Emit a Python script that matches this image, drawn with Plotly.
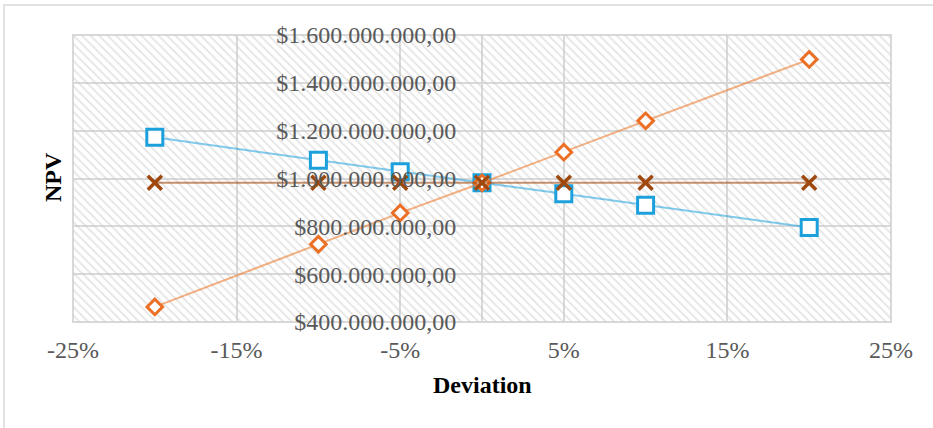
import plotly.graph_objects as go

# Percentage deviation of each input from its base value
deviation = [-0.20, -0.10, -0.05, 0.0, 0.05, 0.10, 0.20]

# NPV for each input under the deviations above
npv_var1 = [1172e6, 1076e6, 1028e6, 982e6, 936e6, 888e6, 795e6]
npv_var2 = [463e6, 725e6, 856e6, 982e6, 1110e6, 1241e6, 1498e6]
npv_var3 = [982e6, 982e6, 982e6, 982e6, 982e6, 982e6, 982e6]

# Axis ticks and their labels
x_ticks = [-0.25, -0.15, -0.05, 0.05, 0.15, 0.25]
x_tick_labels = ["-25%", "-15%", "-5%", "5%", "15%", "25%"]
y_ticks = [400e6, 600e6, 800e6, 1000e6, 1200e6, 1400e6, 1600e6]
y_tick_labels = ["$400.000.000,00", "$600.000.000,00", "$800.000.000,00",
                 "$1.000.000.000,00", "$1.200.000.000,00", "$1.400.000.000,00",
                 "$1.600.000.000,00"]

x_range = [x_ticks[0], x_ticks[-1]]
y_range = [y_ticks[0], y_ticks[-1]]

FONT = "Liberation Serif, Times New Roman, serif"
GRID = "#d9d9d9"

fig = go.Figure()

# Diagonal hatch filling the plot area
fig.add_trace(go.Scatter(
    x=[x_range[0], x_range[1], x_range[1], x_range[0], x_range[0]],
    y=[y_range[0], y_range[0], y_range[1], y_range[1], y_range[0]],
    mode="none", fill="toself", fillcolor="rgba(0,0,0,0)",
    fillpattern=dict(shape="\\", fgcolor="#c9c9c9", bgcolor="rgba(0,0,0,0)",
                     size=6, solidity=0.3),
    hoverinfo="skip", showlegend=False,
))

series = [
    ("Variable 1", npv_var1, "rgba(28,160,220,0.55)", "#1ca0dc", "square", 16, 3),
    ("Variable 2", npv_var2, "rgba(237,125,49,0.6)", "#ec6f26", "diamond", 12, 3),
    ("Variable 3", npv_var3, "rgba(158,72,14,0.6)", "#9e480e", "x-thin", 14, 3.5),
]
for name, vals, lcol, mcol, sym, size, lw in series:
    if sym == "x-thin":
        marker = dict(symbol=sym, size=size, color=mcol, line=dict(color=mcol, width=lw))
    else:
        marker = dict(symbol=sym, size=size, color="white", line=dict(color=mcol, width=lw))
    fig.add_trace(go.Scatter(
        x=deviation, y=vals, name=name, mode="lines+markers",
        line=dict(color=lcol, width=2), marker=marker,
    ))

fig.update_layout(
    width=933, height=428,
    margin=dict(l=73, r=42, t=35, b=106),
    paper_bgcolor="white", plot_bgcolor="white",
    showlegend=False,
    font=dict(family=FONT, size=24, color="#595959"),
    xaxis=dict(
        range=x_range, tickvals=x_ticks, ticktext=x_tick_labels,
        showgrid=True, gridcolor=GRID, gridwidth=2,
        zeroline=True, zerolinecolor=GRID, zerolinewidth=2,
        ticks="outside", ticklen=6, tickcolor="rgba(0,0,0,0)",
        showline=False,
    ),
    yaxis=dict(
        range=y_range, tickvals=y_ticks, ticktext=y_tick_labels,
        showgrid=True, gridcolor=GRID, gridwidth=2, zeroline=False,
        anchor="free", position=0.5,
        ticks="outside", ticklen=21, tickcolor="rgba(0,0,0,0)",
        showline=False,
    ),
    shapes=[
        # plot-area frame
        dict(type="rect", xref="paper", yref="paper", x0=0, x1=1, y0=0, y1=1,
             line=dict(color=GRID, width=2), layer="below"),
        # chart-area frame
        dict(type="rect", xref="paper", yref="paper",
             x0=(4 - 73) / 818, x1=1.1, y0=-0.5, y1=(322 - 5) / 287,
             line=dict(color=GRID, width=1.5), layer="below"),
    ],
    annotations=[
        dict(text="<b>NPV</b>", xref="paper", yref="paper",
             x=(53 - 73) / 818, y=(322 - 177) / 287, textangle=-90, showarrow=False,
             xanchor="center", yanchor="middle",
             font=dict(family=FONT, size=24, color="black")),
        dict(text="<b>Deviation</b>", xref="paper", yref="paper",
             x=0.5, y=(322 - 385) / 287, showarrow=False,
             xanchor="center", yanchor="middle",
             font=dict(family=FONT, size=24, color="black")),
    ],
)

fig.write_html("out.html")
